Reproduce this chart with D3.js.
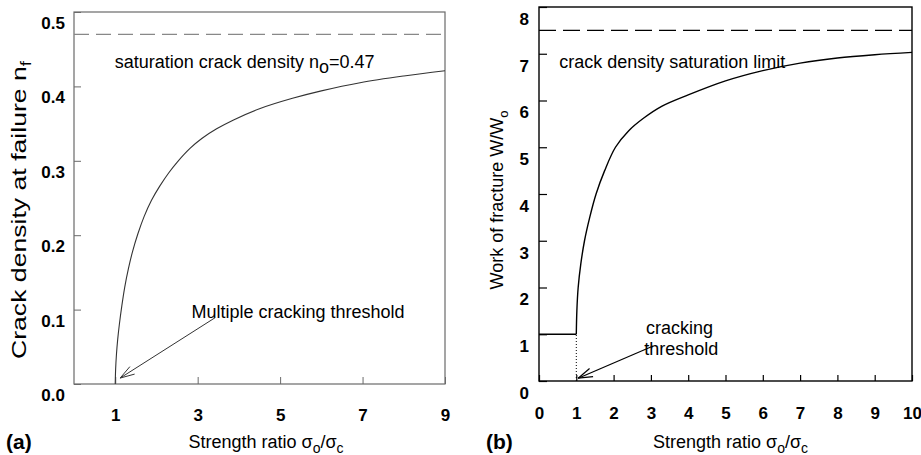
<!DOCTYPE html>
<html><head><meta charset="utf-8">
<script src="https://cdn.jsdelivr.net/npm/d3@7"></script>
<style>
body{margin:0;background:#fff;}
svg{display:block;font-family:"Liberation Sans",Arial,sans-serif;}
</style>
</head><body>
<svg id="c" width="921" height="455"></svg>
<script>
// ---- Panel (a) data ----
const aStrength = [1.0, 1.01, 1.03, 1.06, 1.1, 1.16, 1.23, 1.32, 1.42, 1.55, 1.7, 1.88, 2.08, 2.3, 2.5, 2.82, 3.1, 3.46, 3.87, 4.5, 5.3, 6.0, 6.94, 8.0, 9.0];
const aDensity  = [0.0, 0.02, 0.04, 0.06, 0.08, 0.105, 0.13, 0.155, 0.178, 0.202, 0.225, 0.247, 0.266, 0.284, 0.298, 0.317, 0.330, 0.343, 0.355, 0.370, 0.384, 0.394, 0.405, 0.414, 0.421];
const aXTicks = [1, 3, 5, 7, 9];
const aYTicks = [0, 0.1, 0.2, 0.3, 0.4, 0.5];
const aYTickLabels = ["0.0", "0.1", "0.2", "0.3", "0.4", "0.5"];
const aSaturation = 0.47;

// ---- Panel (b) data ----
const bPreStrength = [0, 1];
const bPreWork = [1.0, 1.0];
const bStrength = [1.0, 1.015, 1.05, 1.12, 1.22, 1.36, 1.53, 1.76, 2.05, 2.4, 2.8, 3.3, 4.0, 5.0, 6.0, 7.0, 8.0, 9.0, 10.0];
const bWork     = [1.0, 1.5, 2.0, 2.5, 3.0, 3.5, 4.0, 4.5, 5.0, 5.35, 5.62, 5.88, 6.12, 6.42, 6.64, 6.8, 6.91, 6.98, 7.03];
const bXTicks = [0, 1, 2, 3, 4, 5, 6, 7, 8, 9, 10];
const bYTicks = [0, 1, 2, 3, 4, 5, 6, 7, 8];
const bSaturation = 7.5;

const svg = d3.select("#c");

function arrow(g, x1, y1, x2, y2, color, w) {
  g.append("line").attr("x1", x1).attr("y1", y1).attr("x2", x2).attr("y2", y2)
    .attr("stroke", color).attr("stroke-width", w);
  const ang = Math.atan2(y1 - y2, x1 - x2);
  const L = 15, da = 0.3;
  [ang - da, ang + da].forEach(a => {
    g.append("line").attr("x1", x2).attr("y1", y2)
      .attr("x2", x2 + L * Math.cos(a)).attr("y2", y2 + L * Math.sin(a))
      .attr("stroke", color).attr("stroke-width", w);
  });
}

function xTitle(g, cx, cy) {
  const t = g.append("text").attr("x", cx).attr("y", cy).attr("text-anchor", "middle")
    .attr("font-size", 18).attr("fill", "#000");
  t.append("tspan").text("Strength ratio \u03C3");
  t.append("tspan").attr("dy", 5).attr("font-size", 14).text("o");
  t.append("tspan").attr("dy", -5).text("/\u03C3");
  t.append("tspan").attr("dy", 5).attr("font-size", 14).text("c");
}

// ================= Panel (a) =================
{
  const x = d3.scaleLinear().domain([0, 9]).range([74, 445]);
  const y = d3.scaleLinear().domain([0, 0.5]).range([384, 12]);
  const g = svg.append("g");
  const frameCol = "#6a6a6a";

  g.append("rect").attr("x", x(0)).attr("y", y(0.5)).attr("width", x(9) - x(0)).attr("height", y(0) - y(0.5))
    .attr("fill", "none").attr("stroke", frameCol).attr("stroke-width", 1.2);

  const ya = g.append("g").attr("transform", `translate(${x(0)},0)`)
    .call(d3.axisLeft(y).tickValues(aYTicks).tickFormat((d, i) => aYTickLabels[i]).tickSize(-7).tickPadding(9));
  ya.select(".domain").remove();
  ya.selectAll("line").attr("stroke", frameCol);
  ya.selectAll("text").attr("y", 11).attr("font-size", 17).attr("font-weight", "bold")
    .attr("font-family", "Liberation Sans, Arial, sans-serif").attr("fill", "#000");

  const xa = g.append("g").attr("transform", `translate(0,${y(0)})`)
    .call(d3.axisBottom(x).tickValues(aXTicks).tickSize(-7).tickPadding(0));
  xa.select(".domain").remove();
  xa.selectAll("line").attr("stroke", frameCol);
  xa.selectAll("text").attr("y", 25).attr("font-size", 17).attr("font-weight", "bold")
    .attr("font-family", "Liberation Sans, Arial, sans-serif").attr("fill", "#000");

  g.append("line").attr("x1", x(0)).attr("x2", x(9)).attr("y1", y(aSaturation)).attr("y2", y(aSaturation))
    .attr("stroke", "#888").attr("stroke-width", 1.2).attr("stroke-dasharray", "15,7");

  const line = d3.line().x((d, i) => x(aStrength[i])).y((d, i) => y(aDensity[i])).curve(d3.curveCatmullRom.alpha(0.5));
  g.append("path").datum(aStrength).attr("d", line).attr("fill", "none").attr("stroke", "#333").attr("stroke-width", 1.1);

  const st = g.append("text").attr("x", x(0.99)).attr("y", y(0.425)).attr("font-size", 18).attr("fill", "#000");
  st.append("tspan").text("saturation crack density n");
  st.append("tspan").attr("dy", 5).text("o");
  st.append("tspan").attr("dy", -5).text("=0.47");

  g.append("text").attr("x", x(2.85)).attr("y", y(0.089)).attr("font-size", 18).attr("fill", "#000")
    .text("Multiple cracking threshold");
  arrow(g, x(3.42), y(0.089), x(1.12), y(0.008), "#333", 1);

  const yt = g.append("text").attr("transform", `translate(26,210) rotate(-90)`).attr("text-anchor", "middle")
    .attr("font-size", 20).attr("fill", "#000").attr("textLength", 298).attr("lengthAdjust", "spacingAndGlyphs");
  yt.append("tspan").text("Crack density at failure n");
  yt.append("tspan").attr("dy", 5).attr("font-size", 14).text("f");

  xTitle(g, 266, 448);
  g.append("text").attr("x", 6).attr("y", 449).attr("font-size", 21).attr("font-weight", "bold").text("(a)");
}

// ================= Panel (b) =================
{
  const x = d3.scaleLinear().domain([0, 10]).range([539, 912]);
  const y = d3.scaleLinear().domain([0, 8]).range([381, 7]);
  const g = svg.append("g");

  g.append("rect").attr("x", x(0)).attr("y", y(8)).attr("width", x(10) - x(0)).attr("height", y(0) - y(8))
    .attr("fill", "none").attr("stroke", "#000").attr("stroke-width", 1.4);

  const ya = g.append("g").attr("transform", `translate(${x(0)},0)`)
    .call(d3.axisLeft(y).tickValues(bYTicks).tickFormat(d3.format("d")).tickSize(-8).tickPadding(10));
  ya.select(".domain").remove();
  ya.selectAll("line").attr("stroke", "#000").attr("stroke-width", 1.2);
  ya.selectAll("text").attr("y", 12).attr("font-size", 17).attr("font-weight", "bold")
    .attr("font-family", "Liberation Sans, Arial, sans-serif").attr("fill", "#000");

  const xa = g.append("g").attr("transform", `translate(0,${y(0)})`)
    .call(d3.axisBottom(x).tickValues(bXTicks).tickFormat(d3.format("d")).tickSize(-6).tickPadding(0));
  xa.select(".domain").remove();
  xa.selectAll("line").attr("stroke", "#000").attr("stroke-width", 1.2);
  xa.selectAll("text").attr("y", 26).attr("font-size", 17).attr("font-weight", "bold")
    .attr("font-family", "Liberation Sans, Arial, sans-serif").attr("fill", "#000");

  g.append("line").attr("x1", x(0)).attr("x2", x(10)).attr("y1", y(bSaturation)).attr("y2", y(bSaturation))
    .attr("stroke", "#000").attr("stroke-width", 1.4).attr("stroke-dasharray", "17,7");

  g.append("path").datum(bPreStrength)
    .attr("d", d3.line().x((d, i) => x(bPreStrength[i])).y((d, i) => y(bPreWork[i])))
    .attr("fill", "none").attr("stroke", "#000").attr("stroke-width", 1.3);
  g.append("line").attr("x1", x(1)).attr("x2", x(1)).attr("y1", y(0)).attr("y2", y(bPreWork[1]))
    .attr("stroke", "#000").attr("stroke-width", 1).attr("stroke-dasharray", "1,2");

  const line = d3.line().x((d, i) => x(bStrength[i])).y((d, i) => y(bWork[i])).curve(d3.curveCatmullRom.alpha(0.5));
  g.append("path").datum(bStrength).attr("d", line).attr("fill", "none").attr("stroke", "#000").attr("stroke-width", 1.4);

  g.append("text").attr("x", x(0.54)).attr("y", y(6.7)).attr("font-size", 18).attr("fill", "#000")
    .text("crack density saturation limit");
  g.append("text").attr("x", x(2.87)).attr("y", y(1.0)).attr("font-size", 18).attr("fill", "#000").text("cracking");
  g.append("text").attr("x", x(2.82)).attr("y", y(0.55)).attr("font-size", 18).attr("fill", "#000").text("threshold");
  arrow(g, x(3.06), y(0.75), x(1.05), y(0.06), "#000", 1.2);

  const yt = g.append("text").attr("transform", `translate(503,200) rotate(-90)`).attr("text-anchor", "middle")
    .attr("font-size", 18).attr("fill", "#000");
  yt.append("tspan").text("Work of fracture W/W");
  yt.append("tspan").attr("dy", 5).attr("font-size", 13).text("o");

  xTitle(g, (x(0) + x(10)) / 2 + 5, 448);
  g.append("text").attr("x", 486).attr("y", 449).attr("font-size", 21).attr("font-weight", "bold").text("(b)");
}
</script>
</body></html>
